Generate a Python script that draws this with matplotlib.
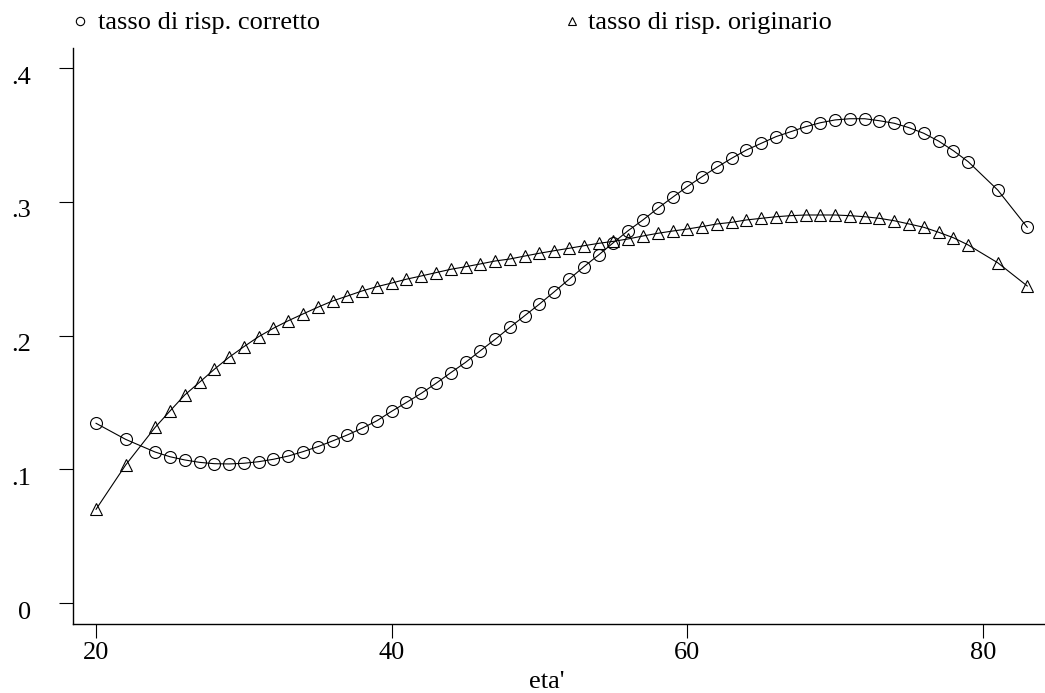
import matplotlib
matplotlib.use("Agg")
import matplotlib.pyplot as plt
from matplotlib.lines import Line2D
from matplotlib.transforms import ScaledTranslation

plt.rcParams['font.family'] = ['Liberation Serif', 'DejaVu Serif']

ages = [20, 22, 24] + list(range(25, 80)) + [81, 83]

corretto = [0.1344, 0.1224, 0.1129,
            0.1094, 0.1070, 0.1052, 0.1042, 0.1040, 0.1045, 0.1057, 0.1075, 0.1099, 0.1132,
            0.1169, 0.1212, 0.1257, 0.1307, 0.1363, 0.1434, 0.1500, 0.1568, 0.1643, 0.1723,
            0.1800, 0.1887, 0.1972, 0.2062, 0.2149, 0.2236, 0.2328, 0.2421, 0.2515, 0.2603,
            0.2695, 0.2785, 0.2865, 0.2952, 0.3034, 0.3114, 0.3189, 0.3259, 0.3326, 0.3388,
            0.3438, 0.3488, 0.3525, 0.3562, 0.3592, 0.3613, 0.3622, 0.3622, 0.3607, 0.3588,
            0.3555, 0.3513, 0.3455, 0.3383, 0.3301,
            0.3089, 0.2810]

originario = [0.0701, 0.1032, 0.1314,
              0.1436, 0.1556, 0.1651, 0.1748, 0.1838, 0.1917, 0.1992, 0.2055, 0.2111, 0.2162,
              0.2212, 0.2259, 0.2296, 0.2334, 0.2366, 0.2393, 0.2422, 0.2446, 0.2471, 0.2496,
              0.2515, 0.2536, 0.2558, 0.2573, 0.2595, 0.2616, 0.2635, 0.2653, 0.2672, 0.2690,
              0.2705, 0.2723, 0.2745, 0.2765, 0.2782, 0.2797, 0.2815, 0.2835, 0.2847, 0.2865,
              0.2877, 0.2889, 0.2897, 0.2902, 0.2902, 0.2902, 0.2897, 0.2889, 0.2877, 0.2859,
              0.2835, 0.2810, 0.2773, 0.2732, 0.2678,
              0.2545, 0.2371]

xticks = [20, 40, 60, 80]
yticks = [0, 0.1, 0.2, 0.3, 0.4]
ytick_labels = ["0", ".1", ".2", ".3", ".4"]
legend_labels = ["tasso di risp. corretto", "tasso di risp. originario"]
xlabel = "eta'"

W, H = 1045, 693
fig = plt.figure(figsize=(W / 100, H / 100), dpi=100)
ax = fig.add_axes([73 / W, (H - 624) / H, (W - 73) / W, (624 - 48) / H])

ax.plot(ages, corretto, color='black', lw=0.8, marker='o', ms=8.6,
        mfc='none', mec='black', mew=0.8)
ax.plot(ages, originario, color='black', lw=0.8, marker='^', ms=8.6,
        mfc='none', mec='black', mew=0.8)

ax.set_xlim(18.44, 84.2)
ax.set_ylim(-0.0157, 0.4151)
ax.set_xticks(xticks)
ax.set_xticklabels([str(t) for t in xticks])
ax.set_yticks(yticks)
ax.set_yticklabels(ytick_labels)

for s in ['top', 'right']:
    ax.spines[s].set_visible(False)
for s in ['left', 'bottom']:
    ax.spines[s].set_linewidth(1.0)

ax.tick_params(axis='both', direction='out', length=10, width=0.8,
               labelsize=19, colors='black')
ax.tick_params(axis='y', pad=20)
ax.tick_params(axis='x', pad=3)

off = ScaledTranslation(0, -7 / 100, fig.dpi_scale_trans)
for lab in ax.get_yticklabels():
    lab.set_transform(lab.get_transform() + off)

fig.text(547 / W, 1 - 688 / H, xlabel, ha='center', va='baseline', fontsize=19)

# legend
fig.add_artist(Line2D([80 / W], [1 - 20.7 / H], transform=fig.transFigure,
                      marker='o', ms=6, mfc='none', mec='black', mew=0.8, ls='none'))
fig.text(98 / W, 1 - 29.3 / H, legend_labels[0], ha='left', va='baseline', fontsize=19)
fig.add_artist(Line2D([571.7 / W], [1 - 21 / H], transform=fig.transFigure,
                      marker='^', ms=6, mfc='none', mec='black', mew=0.8, ls='none'))
fig.text(588 / W, 1 - 29.3 / H, legend_labels[1], ha='left', va='baseline', fontsize=19)

fig.savefig("out.png", dpi=100, facecolor='white')
